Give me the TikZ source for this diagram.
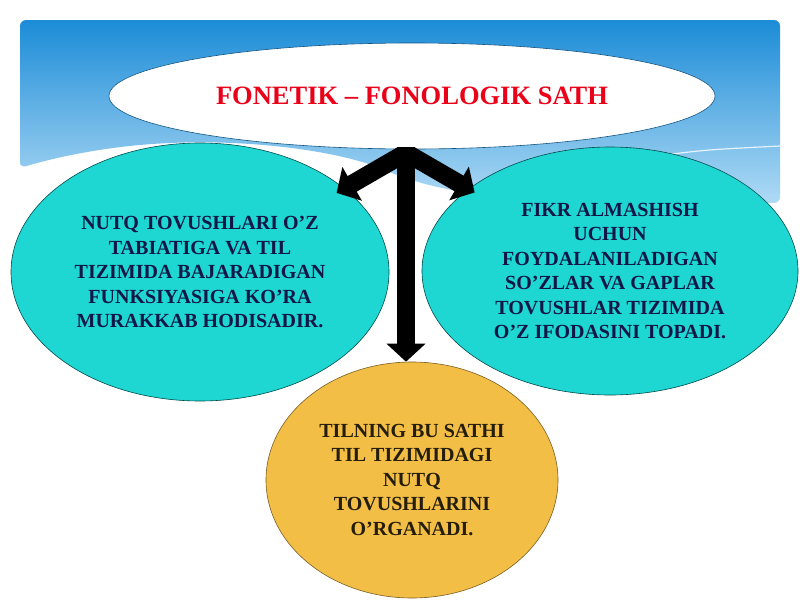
\documentclass[tikz,border=0pt]{standalone}
\usepackage{fontspec}
\setmainfont{Liberation Serif}
\usetikzlibrary{positioning, arrows.meta, shapes.geometric}

\definecolor{skytop}{RGB}{28,140,215}
\definecolor{skybot}{RGB}{175,218,245}
\definecolor{lagoon}{RGB}{30,214,210}
\definecolor{amber}{RGB}{242,190,70}
\definecolor{ink}{RGB}{16,22,70}
\definecolor{titlered}{RGB}{235,0,25}

\begin{document}
\begin{tikzpicture}[
    x=1pt, y=-1pt,
    on grid,
    bubble/.style={ellipse, draw=#1, line width=0.6pt, inner sep=0pt, align=center},
    bodytext/.style={font=\fontsize{20}{24.5}\selectfont\bfseries},
    arrow/.style={-{Triangle[length=18pt, width=38pt]}, line width=18pt, black}
]
    % Background
    \useasboundingbox (0,0) rectangle (800,600);
    \fill[white] (0,0) rectangle (800,600);
    \shade[top color=skytop, bottom color=skybot, rounded corners=6pt]
        (20,168) -- (20,20) -- (780,20) -- (780,203) -- (560,200)
        .. controls (470,198) and (420,185) .. (380,168)
        .. controls (330,150) and (250,140) .. (170,143)
        .. controls (110,146) and (60,156) .. cycle;
    \draw[white, line width=1.2pt, opacity=0.8] (630,160) .. controls (700,150) .. (780,146);

    % Nodes
    \node[bubble=skytop!60!black, fill=white, minimum width=606pt, minimum height=106pt,
          font=\fontsize{26.5}{30}\selectfont\bfseries, text=titlered] (title) at (412,96)
          {FONETIK – FONOLOGIK SATH};
    \node[bubble=teal!60!black, fill=lagoon, minimum width=378pt, minimum height=258pt,
          bodytext, text=ink, below left=176pt and 212pt of title] (nutq)
          {NUTQ TOVUSHLARI O’Z\\TABIATIGA VA TIL\\TIZIMIDA BAJARADIGAN\\FUNKSIYASIGA KO’RA\\MURAKKAB HODISADIR.};
    \node[bubble=teal!60!black, fill=lagoon, minimum width=376pt, minimum height=248pt,
          bodytext, text=ink, below right=175pt and 198pt of title] (fikr)
          {FIKR ALMASHISH\\UCHUN\\FOYDALANILADIGAN\\SO’ZLAR VA GAPLAR\\TOVUSHLAR TIZIMIDA\\O’Z IFODASINI TOPADI.};
    \node[bubble=amber!50!black, fill=amber, minimum width=292pt, minimum height=236pt,
          bodytext, text=black!85!amber, below=384pt of title] (tilning)
          {TILNING BU SATHI\\TIL TIZIMIDAGI\\NUTQ\\TOVUSHLARINI\\O’RGANADI.};

    % Arrows
    \coordinate (hub) at (406,147);
    \draw[arrow] (hub) -- (hub |- tilning.north);
    \draw[arrow, shorten >=-9pt] ([shift={(-4pt,-8pt)}]hub) -- (nutq);
    \draw[arrow, shorten >=-7pt] ([shift={(4pt,-8pt)}]hub) -- (fikr);
\end{tikzpicture}
\end{document}
